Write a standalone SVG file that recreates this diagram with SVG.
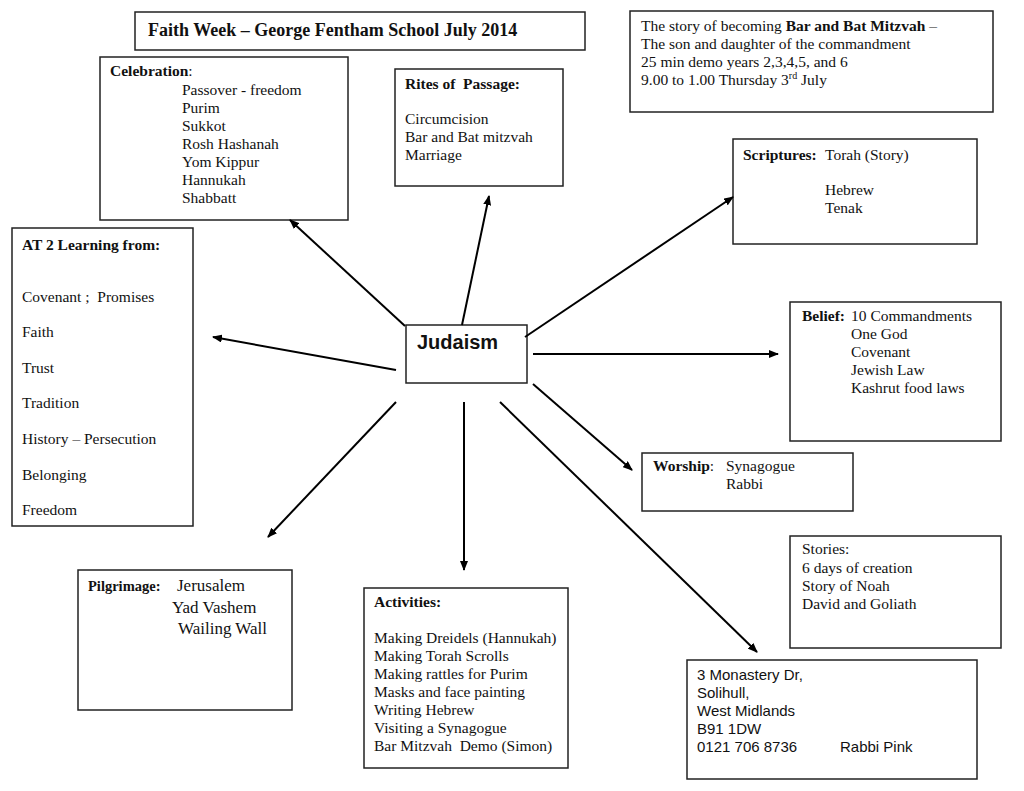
<svg xmlns="http://www.w3.org/2000/svg" width="1024" height="791" viewBox="0 0 1024 791">
<defs>
<marker id="ah" viewBox="0 0 10 8" refX="9" refY="4" markerWidth="10" markerHeight="8" markerUnits="userSpaceOnUse" orient="auto">
<path d="M0,0 L10,4 L0,8 Z" fill="#000"/>
</marker>
<style>
.box{fill:#fff;stroke:#222;stroke-width:1.5}
text{font-family:"Liberation Serif","Times New Roman",serif;font-size:15.5px;fill:#111;white-space:pre}
.b{font-weight:bold}
.sans{font-family:"Liberation Sans",Arial,sans-serif}
.con line{stroke:#000;stroke-width:2;marker-end:url(#ah)}
</style>
</defs>
<rect width="1024" height="791" fill="#fff"/>

<g id="title">
<rect class="box" x="135" y="12" width="450" height="38"/>
<text x="148" y="36" class="b" style="font-size:18px">Faith Week – George Fentham School July 2014</text>
</g>

<g id="celebration">
<rect class="box" x="100" y="57" width="248" height="163"/>
<text x="110" y="76"><tspan class="b">Celebration</tspan>:</text>
<text x="182" y="95">Passover - freedom</text>
<text x="182" y="113">Purim</text>
<text x="182" y="131">Sukkot</text>
<text x="182" y="149">Rosh Hashanah</text>
<text x="182" y="167">Yom Kippur</text>
<text x="182" y="185">Hannukah</text>
<text x="182" y="203">Shabbatt</text>
</g>

<g id="rites">
<rect class="box" x="395" y="69" width="168" height="117"/>
<text x="405" y="89" class="b" xml:space="preserve">Rites of  Passage:</text>
<text x="405" y="124">Circumcision</text>
<text x="405" y="142">Bar and Bat mitzvah</text>
<text x="405" y="160">Marriage</text>
</g>

<g id="barmitzvah">
<rect class="box" x="630" y="11" width="363" height="101"/>
<text x="641" y="31">The story of becoming <tspan class="b">Bar and Bat Mitzvah</tspan> –</text>
<text x="641" y="49">The son and daughter of the commandment</text>
<text x="641" y="67">25 min demo years 2,3,4,5, and 6</text>
<text x="641" y="85">9.00 to 1.00 Thursday 3<tspan dy="-6" style="font-size:10px">rd</tspan><tspan dy="6"> July</tspan></text>
</g>

<g id="scriptures">
<rect class="box" x="733" y="139" width="244" height="105"/>
<text x="743" y="160" class="b">Scriptures:</text>
<text x="825" y="160">Torah (Story)</text>
<text x="825" y="195">Hebrew</text>
<text x="825" y="213">Tenak</text>
</g>

<g id="at2">
<rect class="box" x="12" y="228" width="181" height="298"/>
<text x="22" y="250" class="b">AT 2 Learning from:</text>
<text x="22" y="302" xml:space="preserve">Covenant ;  Promises</text>
<text x="22" y="337">Faith</text>
<text x="22" y="373">Trust</text>
<text x="22" y="408">Tradition</text>
<text x="22" y="444">History – Persecution</text>
<text x="22" y="480">Belonging</text>
<text x="22" y="515">Freedom</text>
</g>

<g id="judaism">
<rect class="box" x="406" y="325" width="121" height="58"/>
<text x="417" y="349" class="sans b" style="font-size:20px">Judaism</text>
</g>

<g id="belief">
<rect class="box" x="790" y="302" width="211" height="139"/>
<text x="802" y="321" class="b">Belief:</text>
<text x="851" y="321">10 Commandments</text>
<text x="851" y="339">One God</text>
<text x="851" y="357">Covenant</text>
<text x="851" y="375">Jewish Law</text>
<text x="851" y="393">Kashrut food laws</text>
</g>

<g id="worship">
<rect class="box" x="642" y="453" width="211" height="58"/>
<text x="653" y="471"><tspan class="b">Worship</tspan>:</text>
<text x="726" y="471">Synagogue</text>
<text x="726" y="489">Rabbi</text>
</g>

<g id="stories">
<rect class="box" x="790" y="536" width="211" height="112"/>
<text x="802" y="554">Stories:</text>
<text x="802" y="573">6 days of creation</text>
<text x="802" y="591">Story of Noah</text>
<text x="802" y="609">David and Goliath</text>
</g>

<g id="address">
<rect class="box" x="687" y="660" width="290" height="119"/>
<text x="697" y="680" class="sans" style="font-size:15px">3 Monastery Dr,</text>
<text x="697" y="698" class="sans" style="font-size:15px">Solihull,</text>
<text x="697" y="716" class="sans" style="font-size:15px">West Midlands</text>
<text x="697" y="734" class="sans" style="font-size:15px">B91 1DW</text>
<text x="697" y="752" class="sans" style="font-size:15px">0121 706 8736</text>
<text x="840" y="752" class="sans" style="font-size:15px">Rabbi Pink</text>
</g>

<g id="pilgrimage">
<rect class="box" x="78" y="570" width="214" height="140"/>
<text x="88" y="591" class="b" style="font-size:14.5px">Pilgrimage:</text>
<text x="177" y="591" style="font-size:17px">Jerusalem</text>
<text x="172" y="613" style="font-size:17px">Yad Vashem</text>
<text x="178" y="634" style="font-size:17px">Wailing Wall</text>
</g>

<g id="activities">
<rect class="box" x="364" y="588" width="204" height="180"/>
<text x="374" y="607" class="b">Activities:</text>
<text x="374" y="643">Making Dreidels (Hannukah)</text>
<text x="374" y="661">Making Torah Scrolls</text>
<text x="374" y="679">Making rattles for Purim</text>
<text x="374" y="697">Masks and face painting</text>
<text x="374" y="715">Writing Hebrew</text>
<text x="374" y="733">Visiting a Synagogue</text>
<text x="374" y="751" xml:space="preserve">Bar Mitzvah  Demo (Simon)</text>
</g>

<g id="connectors" class="con">
<line x1="405" y1="326" x2="290" y2="220"/>
<line x1="462" y1="325" x2="489" y2="196"/>
<line x1="525" y1="337" x2="733" y2="197"/>
<line x1="533" y1="354" x2="778" y2="354"/>
<line x1="533" y1="384" x2="632" y2="470"/>
<line x1="500" y1="402" x2="757" y2="652"/>
<line x1="464" y1="402" x2="464" y2="570"/>
<line x1="396" y1="402" x2="268" y2="537"/>
<line x1="396" y1="370" x2="213" y2="337"/>
</g>
</svg>
